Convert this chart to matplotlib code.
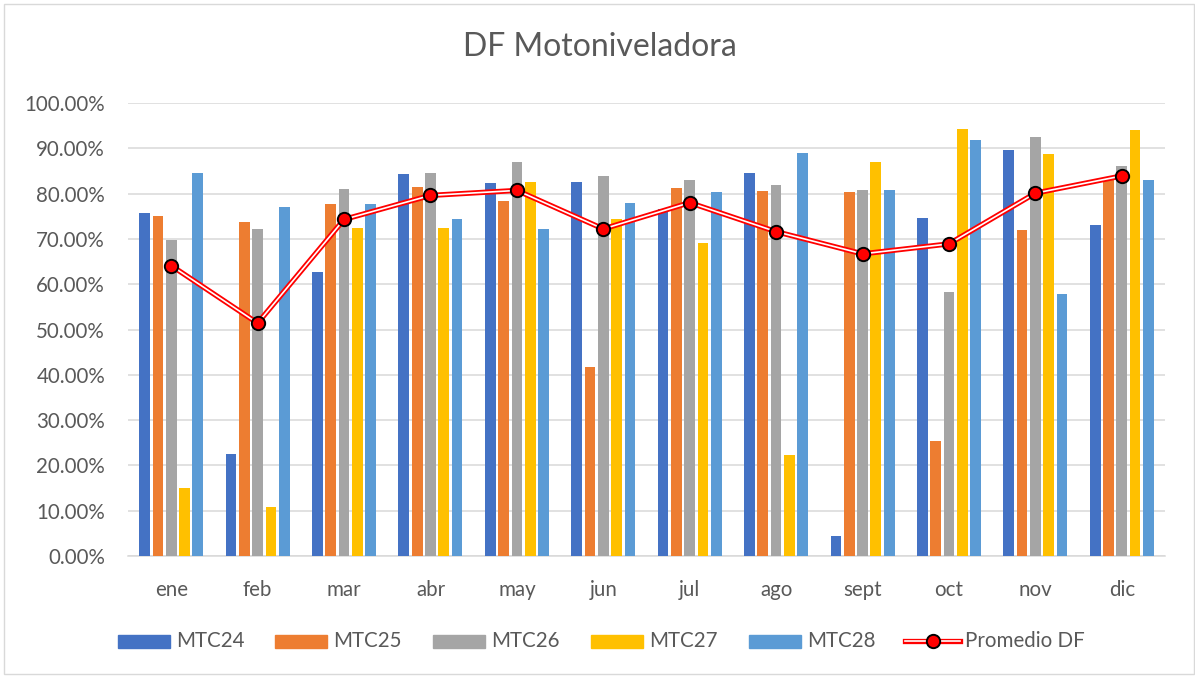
import matplotlib
matplotlib.use("Agg")
import matplotlib.pyplot as plt
import numpy as np
from matplotlib.patches import Rectangle
from matplotlib.lines import Line2D
from matplotlib.ticker import FuncFormatter

plt.rcParams['font.family'] = ['Lato', 'DejaVu Sans']

months = ["ene", "feb", "mar", "abr", "may", "jun", "jul", "ago", "sept", "oct", "nov", "dic"]
mtc24 = [75.8, 22.6, 62.6, 84.3, 82.3, 82.5, 76.5, 84.5, 4.4, 74.7, 89.6, 73.0]
mtc25 = [75.0, 73.7, 77.6, 81.4, 78.4, 41.7, 81.2, 80.6, 80.4, 25.4, 71.9, 83.5]
mtc26 = [69.7, 72.1, 81.0, 84.6, 87.0, 83.9, 83.1, 81.8, 80.7, 58.3, 92.4, 86.0]
mtc27 = [15.1, 10.8, 72.3, 72.5, 82.6, 74.5, 69.0, 22.2, 86.9, 94.2, 88.7, 94.0]
mtc28 = [84.5, 77.1, 77.6, 74.3, 72.2, 77.9, 80.3, 89.0, 80.9, 91.8, 57.9, 82.9]
promedio = [64.1, 51.4, 74.3, 79.6, 80.7, 72.2, 78.0, 71.6, 66.7, 68.9, 80.1, 83.9]

series_names = ["MTC24", "MTC25", "MTC26", "MTC27", "MTC28"]
series = [mtc24, mtc25, mtc26, mtc27, mtc28]
colors = ["#4472C4", "#ED7D31", "#A5A5A5", "#FFC000", "#5B9BD5"]
line_name = "Promedio DF"

W, H = 1195, 676
fig = plt.figure(figsize=(W / 100, H / 100), dpi=100)
ax = fig.add_axes([128 / W, 120 / H, 1037 / W, 453 / H])

text_color = "#595959"
grid_color = "#D9D9D9"

x = np.arange(len(months))
step = 0.154
bw = 0.124
for i, (vals, c) in enumerate(zip(series, colors)):
    ax.bar(x + (i - 2) * step, np.array(vals) / 100.0, width=bw, color=c, zorder=3)

pv = np.array(promedio) / 100.0
ax.plot(x, pv, color="#FF0000", lw=3.8, zorder=5, solid_joinstyle='miter')
ax.plot(x, pv, color="white", lw=1.2, zorder=6)
ax.plot(x, pv, 'o', ms=9.6, mfc="#FF0000", mec="black", mew=1.4, zorder=7, ls='none')

ax.set_xlim(-0.5, len(months) - 0.5)
ax.set_ylim(0, 1.0)
ax.set_yticks(np.arange(0, 1.01, 0.1))
ax.yaxis.set_major_formatter(FuncFormatter(lambda v, p: f"{v * 100:.2f}%"))
ax.set_xticks(x)
ax.set_xticklabels(months)
ax.tick_params(axis='y', length=0, pad=16.5, labelsize=14.8, labelcolor=text_color)
ax.tick_params(axis='x', length=0, pad=17.5, labelsize=14.8, labelcolor=text_color)
ax.grid(axis='y', color=grid_color, lw=1.1, zorder=0)
ax.set_axisbelow(True)
for s in ["left", "right", "top"]:
    ax.spines[s].set_visible(False)
ax.spines["bottom"].set_color(grid_color)
ax.spines["bottom"].set_linewidth(1.1)
ax.spines["bottom"].set_zorder(1)

fig.text(600 / W, 1 - 47 / H, "DF Motoniveladora", ha='center', va='center',
         fontsize=23, color=text_color)

# legend (manual)
yc = 1 - 641 / H
patch_x = [118, 275, 433, 591, 749]
for px, name, c in zip(patch_x, series_names, colors):
    fig.add_artist(Rectangle((px / W, yc - 6.5 / H), 52 / W, 13 / H,
                             transform=fig.transFigure, color=c))
    fig.text((px + 58) / W, yc, name, ha='left', va='center', fontsize=14.8, color=text_color)
fig.add_artist(Line2D([905 / W, 960 / W], [yc, yc], transform=fig.transFigure,
                      color="#FF0000", lw=3.8))
fig.add_artist(Line2D([905 / W, 960 / W], [yc, yc], transform=fig.transFigure,
                      color="white", lw=1.2))
fig.add_artist(Line2D([932.5 / W], [yc], transform=fig.transFigure, marker='o', ms=9.6,
                      mfc="#FF0000", mec="black", mew=1.4, ls='none'))
fig.text(965 / W, yc, line_name, ha='left', va='center', fontsize=14.8, color=text_color)

# outer border
fig.add_artist(Rectangle((4 / W, 2 / H), 1190 / W, 670 / H, transform=fig.transFigure,
                         fill=False, edgecolor=grid_color, lw=1.0))

fig.savefig("out.png", dpi=100)
